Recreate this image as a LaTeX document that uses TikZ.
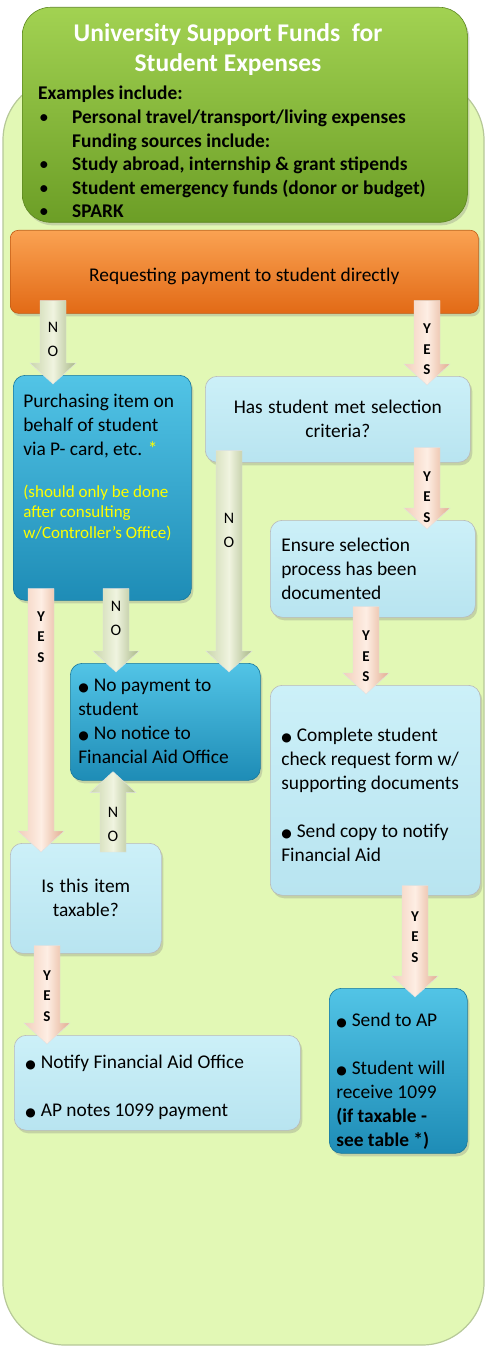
\documentclass[tikz,border=0pt]{standalone}
\usepackage{fontspec}
\setmainfont{Carlito}
\newfontfamily\symfont{DejaVu Sans}
\usetikzlibrary{calc,shadows}

\definecolor{bgfill}{RGB}{226,248,181}
\definecolor{bgline}{RGB}{182,200,152}
\definecolor{grtop}{RGB}{162,210,82}
\definecolor{grbot}{RGB}{108,158,38}
\definecolor{ortop}{RGB}{250,162,82}
\definecolor{orbot}{RGB}{226,106,22}
\definecolor{dktop}{RGB}{82,196,230}
\definecolor{dkbot}{RGB}{30,140,182}
\definecolor{lttop}{RGB}{204,240,248}
\definecolor{ltbot}{RGB}{184,228,240}
\definecolor{yel}{RGB}{255,255,0}
\definecolor{yesl}{RGB}{242,206,186}
\definecolor{yesm}{RGB}{254,238,228}
\definecolor{yesr}{RGB}{226,172,142}
\definecolor{nol}{RGB}{202,214,172}
\definecolor{nom}{RGB}{240,244,224}
\definecolor{nor}{RGB}{168,184,134}

\newcommand\fs{\fontsize{19.4}{24}\selectfont}
\newcommand\fsy{\fontsize{17}{20.5}\selectfont}
\newcommand\bul{{\symfont\fontsize{12}{12}\selectfont ●}\hspace{5pt}}
\newcommand\natsp{\spaceskip=0pt\xspaceskip=0pt\relax}

\tikzset{
  every node/.append style={execute at begin node=\natsp},
  box/.style={rounded corners=12pt, anchor=north west, inner xsep=10pt, inner ysep=0pt,
    font=\fs, line width=.6pt,
    drop shadow={opacity=.3, shadow xshift=2pt, shadow yshift=-3pt}},
  darkbox/.style={box, top color=dktop, bottom color=dkbot, draw=dkbot!85!black},
  lightbox/.style={box, top color=lttop, bottom color=ltbot, draw=gray!55},
  fatdown/.style={to path={let \p1=(\tikztostart), \p2=(\tikztotarget) in
    (\x1-13pt,\y1) -- (\x1-13pt,\y2+12pt) \tikztonodes -- (\x1-23pt,\y2+12pt)
    -- (\x1,\y2-9pt) -- (\x1+23pt,\y2+12pt) -- (\x1+13pt,\y2+12pt)
    -- (\x1+13pt,\y1) -- cycle}},
  fatup/.style={to path={let \p1=(\tikztostart), \p2=(\tikztotarget) in
    (\x1-13pt,\y1) -- (\x1-13pt,\y2-12pt) \tikztonodes -- (\x1-23pt,\y2-12pt)
    -- (\x1,\y2+9pt) -- (\x1+23pt,\y2-12pt) -- (\x1+13pt,\y2-12pt)
    -- (\x1+13pt,\y1) -- cycle}},
  yesarrow/.style={left color=yesl, right color=yesr, middle color=yesm, draw=black!12, line width=.4pt},
  noarrow/.style={left color=nol, right color=nor, middle color=nom, draw=black!12, line width=.4pt},
  yeslbl/.style={font=\fontsize{15}{20.5}\selectfont\bfseries, align=center, inner sep=0pt, xshift=13pt},
  nolbl/.style={font=\fontsize{16}{24}\selectfont, align=center, inner sep=0pt, xshift=13pt},
}

\begin{document}
\begin{tikzpicture}[x=1pt,y=-1pt]
	\useasboundingbox (0,0) rectangle (486,1348);
	% background frame
	\draw[fill=bgfill, draw=bgline, line width=1.2pt, rounded corners=62pt] (3,78) rectangle (484,1345);
	%%%%%%%% header
	\node[box, rounded corners=28pt, top color=grtop, bottom color=grbot, draw=grbot!85!black,
		minimum width=445pt, minimum height=215pt] (head) at (22,7) {};
	\node[anchor=north, inner sep=0pt, align=center, text=white,
		font=\fontsize{25.5}{30}\selectfont\bfseries] (title) at (228,23)
		{University Support Funds\ \ for\\Student Expenses};
	\node[anchor=north west, inner sep=0pt, align=left, text width=430pt,
		font=\fontsize{19.4}{23.6}\selectfont\bfseries] (examples) at (38,86)
		{Examples include:\\
		\makebox[34pt][l]{\hspace{1pt}\mdseries•}Personal travel/transport/living expenses\\
		\hspace*{34pt}Funding sources include:\\
		\makebox[34pt][l]{\hspace{1pt}\mdseries•}Study abroad, internship \& grant stipends\\
		\makebox[34pt][l]{\hspace{1pt}\mdseries•}Student emergency funds (donor or budget)\\
		\makebox[34pt][l]{\hspace{1pt}\mdseries•}SPARK};
	%%%%%%%% boxes
	\node[box, rounded corners=8pt, top color=ortop, bottom color=orbot, draw=orbot!85!black,
		minimum width=468pt, minimum height=83pt, align=center] (orange) at (10,230)
		{\rule{0pt}{22pt}Requesting payment to student directly};
	\node[darkbox, minimum width=178pt, minimum height=225pt, text width=158pt, inner xsep=10pt, align=left] (purch) at (13,375)
		{Purchasing item on\\behalf of student\\via P- card, etc. \textcolor{yel}{*}\par\vspace{21pt}
		{\fsy\color{yel}(should only be done\\after consulting\\w/Controller's Office)\par}\vspace{41pt}\hrule height 0pt};
	\node[lightbox, minimum width=265pt, minimum height=86pt, text width=245pt, align=center] (has) at (205,376)
		{Has student met selection\\criteria?};
	\node[lightbox, minimum width=205pt, minimum height=97pt, text width=183pt, inner xsep=11pt, align=left] (ensure) at (270,520)
		{Ensure selection\\process has been\\documented};
	\node[darkbox, minimum width=190pt, minimum height=117pt, text width=174pt, inner xsep=8pt, align=left] (nopay) at (70,663)
		{\bul No payment to\\student\par\bul No notice to\\Financial Aid Office};
	\node[lightbox, minimum width=210pt, minimum height=210pt, text width=188pt, inner xsep=11pt, align=left] (complete) at (270,685)
		{\rule{0pt}{22pt}\bul Complete student\\check request form w/\\supporting documents\par\vspace{24pt}
		\bul Send copy to notify\\Financial Aid};
	\node[lightbox, minimum width=151pt, minimum height=110pt, text width=141pt, inner xsep=5pt, align=center] (istax) at (10,843)
		{Is this item\\taxable?};
	\node[darkbox, minimum width=138pt, minimum height=165pt, text width=124pt, inner xsep=7pt, align=left] (sendap) at (329,988)
		{\rule{0pt}{34pt}\bul Send to AP\par\vspace{24pt}\bul Student will\\receive 1099\\\textbf{(if taxable -}\\\textbf{see table *)}};
	\node[lightbox, minimum width=286pt, minimum height=95pt, text width=264pt, inner xsep=11pt, align=left] (notify) at (14,1035)
		{\rule{0pt}{22pt}\bul Notify Financial Aid Office\par\vspace{24pt}\bul AP notes 1099 payment};
	%%%%%%%% arrows
	\path[fatdown, noarrow] ([xshift=43pt,yshift=13pt]orange.south west) to node[nolbl, pos=.62]{N\\O} (purch.north);
	\path[fatdown, yesarrow] ([xshift=417pt,yshift=13pt]orange.south west) to node[yeslbl, pos=.77]{Y\\E\\S} (has.north);
	\path[fatdown, noarrow] ([xshift=24pt,yshift=12pt]has.south west) to node[nolbl, pos=.40]{N\\O} (nopay.north);
	\path[fatdown, yesarrow] ([xshift=222pt,yshift=15pt]has.south west) to node[yeslbl, pos=.82]{Y\\E\\S} (ensure.north);
	\path[fatdown, yesarrow] ([xshift=28pt,yshift=12pt]purch.south west) to node[yeslbl, pos=.20]{Y\\E\\S} (istax.north);
	\path[fatdown, noarrow] ([xshift=103pt,yshift=12pt]purch.south west) to node[nolbl, pos=.48]{N\\O} (nopay.north);
	\path[fatup, noarrow] ([xshift=103pt,yshift=-9pt]istax.north west) to node[nolbl, pos=.47]{N\\O} (nopay.south);
	\path[fatdown, yesarrow] ([xshift=37pt,yshift=8pt]istax.south west) to node[yeslbl, pos=.65]{Y\\E\\S} (notify.north);
	\path[fatdown, yesarrow] ([xshift=96pt,yshift=11pt]ensure.south west) to node[yeslbl, pos=.75]{Y\\E\\S} (complete.north);
	\path[fatdown, yesarrow] ([xshift=145pt,yshift=10pt]complete.south west) to node[yeslbl, pos=.57]{Y\\E\\S} (sendap.north);
\end{tikzpicture}
\end{document}
